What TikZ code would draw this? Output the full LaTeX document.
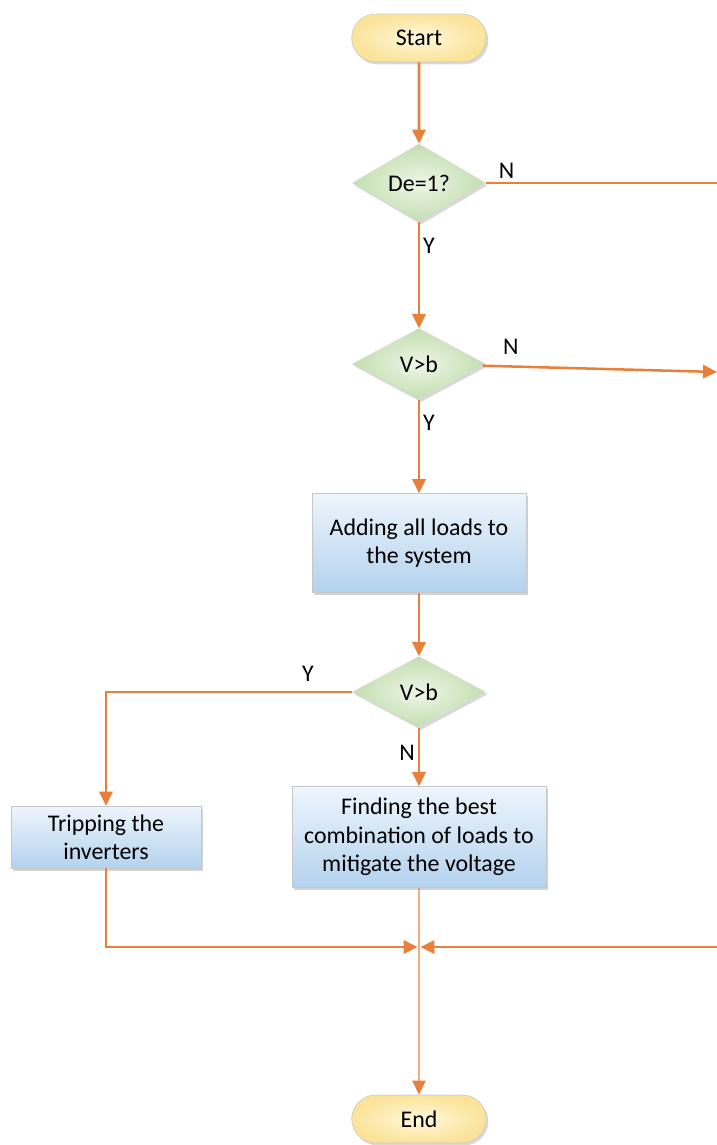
\documentclass[tikz,border=0pt]{standalone}
\usepackage{fontspec}
\setmainfont{Carlito}
\usetikzlibrary{shapes.geometric,shapes.misc,arrows.meta,shadows,positioning}

\definecolor{flowcol}{HTML}{E8803A}
\definecolor{termin}{HTML}{FFF9DA}
\definecolor{termout}{HTML}{FBE39A}
\definecolor{decin}{HTML}{EEF6E8}
\definecolor{decout}{HTML}{C3DEAF}
\definecolor{proctop}{HTML}{EEF5FC}
\definecolor{procbot}{HTML}{B3D2EE}

\tikzstyle{term} = [rounded rectangle, minimum width=3.6cm, minimum height=1.2cm, inner color=termin, outer color=termout, draw=black!22, drop shadow={shadow xshift=0.05cm, shadow yshift=-0.06cm, opacity=0.3}]
\tikzstyle{dec} = [diamond, inner sep=0pt, minimum width=3.325cm, minimum height=1.775cm, inner color=decin, outer color=decout, draw=black!15, drop shadow={shadow xshift=0.05cm, shadow yshift=-0.06cm, opacity=0.3}]
\tikzstyle{proc} = [rectangle, align=center, top color=proctop, bottom color=procbot, draw=black!22, drop shadow={shadow xshift=0.06cm, shadow yshift=-0.07cm, opacity=0.35}]
\tikzstyle{line} = [draw=flowcol, line width=1.8pt]
\tikzstyle{arrow} = [line, -{Triangle[width=0.33cm,length=0.35cm]}]
\tikzstyle{lbl} = [inner sep=2pt]

\begin{document}
\begin{tikzpicture}[-,auto,node distance=3.625cm,font=\fontsize{17}{20.2}\selectfont]
\useasboundingbox (0,0) rectangle (17.925,-28.625);
\coordinate (Edge) at (17.925,0);

\node[term] (Start) at (10.475,-0.95) {Start};
\node[dec] (DeOne) [below of=Start] {De=1?};
\node[dec] (VbOne) [node distance=4.525cm, below of=DeOne] {V>b};
\node[proc, minimum width=5.35cm, minimum height=2.475cm] (AddLoads) [node distance=4.475cm, below of=VbOne] {Adding all loads to\\the system};
\node[dec] (VbTwo) [node distance=3.725cm, below of=AddLoads] {V>b};
\node[proc, minimum width=6.35cm, minimum height=2.525cm] (FindComb) [below of=VbTwo] {Finding the best\\combination of loads to\\mitigate the voltage};
\node[proc, minimum width=4.75cm, minimum height=1.55cm] (Trip) [node distance=7.825cm, left of=FindComb] {Tripping the\\inverters};
\node[coordinate] (Merge) [node distance=2.75cm, below of=FindComb] {};
\node[term] (End) [node distance=4.3cm, below of=Merge] {End};

\coordinate (DeOneOut) at (DeOne -| Edge);
\coordinate (VbOneOut) at ([yshift=-0.2cm]VbOne -| Edge);
\coordinate (MergeIn) at (Merge -| Edge);

\path[line]
  (Start) edge[arrow] (DeOne)
  (DeOne) edge[arrow] node[lbl, right, pos=0.22] {Y} (VbOne)
  (DeOne) edge node[lbl, above, pos=0.09] {N} (DeOneOut)
  (VbOne) edge[arrow] node[lbl, right, pos=0.25] {Y} (AddLoads)
  (VbOne) edge[arrow] node[lbl, above, pos=0.12, yshift=0.2cm] {N} (VbOneOut)
  (AddLoads) edge[arrow] (VbTwo)
  (VbTwo) edge[arrow] node[lbl, left, pos=0.42] {N} (FindComb)
  (MergeIn) edge[arrow, shorten >=1pt] (Merge)
  ;

\draw[arrow] (VbTwo) -| node[lbl, above, pos=0.09, yshift=0.15cm] {Y} (Trip);
\draw[arrow, shorten >=1pt] (Trip) |- (Merge);
\draw[draw=flowcol, line width=0.9pt, -{Triangle[width=0.33cm,length=0.35cm]}] (FindComb) -- (End);

\end{tikzpicture}
\end{document}
